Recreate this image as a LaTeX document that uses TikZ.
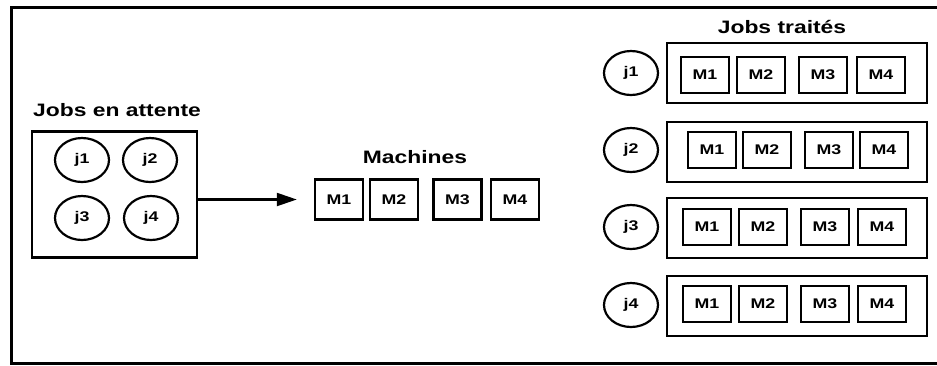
\documentclass[tikz,border=0pt]{standalone}
\usepackage{fontspec}
\setmainfont{Liberation Sans}[FakeStretch=1.27]
\usepackage{tikz}
\usetikzlibrary{shapes.geometric}
\usetikzlibrary{arrows,arrows.meta}
\begin{document}
\begin{tikzpicture}[x=1pt,y=-1pt,
	titre/.style={font=\fontsize{18}{20}\selectfont\bfseries,inner sep=0pt},
	jobrond/.style={ellipse,draw,line width=2.2pt,minimum width=54pt,minimum height=44pt,inner sep=0pt,font=\fontsize{14}{16}\selectfont\bfseries},
	machbox/.style={draw,line width=2.4pt,minimum width=48pt,minimum height=40pt,inner sep=0pt,font=\fontsize{14}{16}\selectfont\bfseries},
	petitbox/.style={machbox,minimum height=36pt},
	rangee/.style={draw,line width=2.4pt,minimum width=260pt,minimum height=60pt,inner sep=0pt}]
		\useasboundingbox (0,0) rectangle (937,365);
		%cadre
		\draw[line width=3pt] (937,7) -- (11,7) -- (11,363) -- (937,363);
		
		%jobs en attente
		\node (T1) [titre,anchor=west] at (33,110) {Jobs en attente};
		\node (A) [draw,line width=2.4pt,minimum width=165pt,minimum height=126pt] at (114.5,194.5) {};
		\node (a1) [jobrond] at (82,160) {j1};
		\node (a2) [jobrond] at (150,160) {j2};
		\node (a3) [jobrond] at (82,218) {j3};
		\node (a4) [jobrond] at (151,218) {j4};
		
		%machines
		\node (T2) [titre] at (415,157) {Machines};
		\node (m1) [machbox] at (339,199.5) {M1};
		\node (m2) [machbox] at (394,199.5) {M2};
		\node (m3) [machbox] at (457.5,199.5) {M3};
		\node (m4) [machbox] at (515,199.5) {M4};
		
		%jobs traites
		\node (T3) [titre] at (782,27) {Jobs traités};
		\node (j1) [jobrond] at (631,73) {j1};
		\node (R1) [rangee] at (797,73) {};
		\node (r1m1) [petitbox] at (705,75) {M1};
		\node (r1m2) [petitbox] at (761,75) {M2};
		\node (r1m3) [petitbox] at (823,75) {M3};
		\node (r1m4) [petitbox] at (881,75) {M4};
		\node (j2) [jobrond] at (631,150) {j2};
		\node (R2) [rangee] at (797,152) {};
		\node (r2m1) [petitbox] at (712,150) {M1};
		\node (r2m2) [petitbox] at (767,150) {M2};
		\node (r2m3) [petitbox] at (829,150) {M3};
		\node (r2m4) [petitbox] at (884,150) {M4};
		\node (j3) [jobrond] at (631,227) {j3};
		\node (R3) [rangee] at (797,228) {};
		\node (r3m1) [petitbox] at (707,227) {M1};
		\node (r3m2) [petitbox] at (763,227) {M2};
		\node (r3m3) [petitbox] at (825,227) {M3};
		\node (r3m4) [petitbox] at (882,227) {M4};
		\node (j4) [jobrond] at (631,305) {j4};
		\node (R4) [rangee] at (797,306) {};
		\node (r4m1) [petitbox] at (707,304) {M1};
		\node (r4m2) [petitbox] at (763,304) {M2};
		\node (r4m3) [petitbox] at (825,304) {M3};
		\node (r4m4) [petitbox] at (882,304) {M4};
		
		%fleche
		\draw[line width=2.2pt,arrows={-Triangle[length=20pt,width=13pt]},shorten >=17pt](A.east |- m1.west) -- (m1.west);
	\end{tikzpicture}
\end{document}
